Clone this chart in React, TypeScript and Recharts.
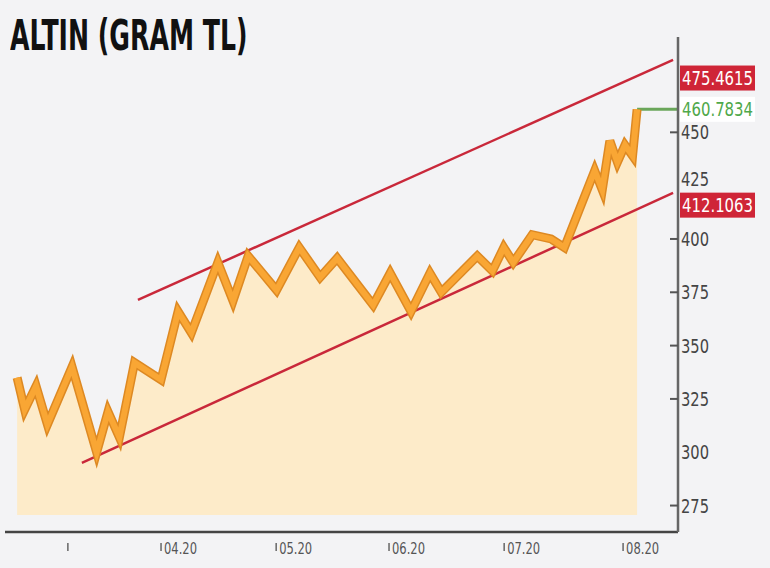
import {
  Area,
  ComposedChart,
  Line,
  ReferenceDot,
  ReferenceLine,
  XAxis,
  YAxis,
} from "recharts";

// days counted from 1 March 2020
const days = [
  -7, -5, -2, 1, 7.5, 14, 17, 20, 24, 31, 35.5, 39, 46, 50, 54, 61.5, 67.5, 73,
  77.5, 87, 91.5, 97, 102, 105, 114.5, 118.5, 121.5, 124, 129, 134, 137.5, 145.5,
  147.5, 149.5, 151.5, 153.5, 155.5, 156.7,
];
const prices = [
  335, 320, 331, 313, 340, 300, 319, 307, 342, 334, 366, 356, 389, 371, 392, 376,
  396, 382, 391, 369, 384, 366, 384, 375, 392, 385, 396, 389, 402, 400, 396, 432,
  423, 446, 436, 444, 439, 460.78,
];

const monthTicks = [6.4, 31, 61.4, 91.2, 121.6, 153];
const monthLabels = ["", "04.20", "05.20", "06.20", "07.20", "08.20"];
const priceTicks = [275, 300, 325, 350, 375, 400, 425, 450];
const noMark = [300, 425];

const upperChannel = [
  { x: 24.9, y: 371.4 },
  { x: 166.2, y: 484 },
];
const lowerChannel = [
  { x: 10.1, y: 295 },
  { x: 166.2, y: 421.6 },
];
const upperLabel = 475.4615;
const lastLabel = 460.7834;
const lowerLabel = 412.1063;

const data = days.map((d, i) => ({ day: d, price: prices[i] }));

const FONT = "'DejaVu Sans', sans-serif";
const X_MAX = 167.5;

const MonthTick = ({ x, y, index }: any) => {
  const label = monthLabels[index];
  return (
    <g>
      <line x1={x} y1={y + 11} x2={x} y2={y + 19} stroke="#666" strokeWidth={1.5} />
      {label && (
        <text
          x={x + 3}
          y={y + 16}
          fontFamily={FONT}
          fontStretch="condensed"
          fontSize={16}
          fill="#555"
          dominantBaseline="central"
          textLength={33}
          lengthAdjust="spacingAndGlyphs"
        >
          {label}
        </text>
      )}
    </g>
  );
};

const PriceTick = ({ x, y, payload }: any) => (
  <g>
    {!noMark.includes(payload.value) && (
      <line x1={x - 8} y1={y} x2={x} y2={y} stroke="#555" strokeWidth={2} />
    )}
    <text
      x={x + 3}
      y={payload.value === 425 ? y - 7 : y}
      fontFamily={FONT}
      fontStretch="condensed"
      fontSize={20}
      fill="#444"
      dominantBaseline="central"
      textLength={28}
      lengthAdjust="spacingAndGlyphs"
    >
      {payload.value}
    </text>
  </g>
);

const ValueBox = ({ cx, cy, text, fill, color, dy }: any) => (
  <g>
    {fill && <rect x={cx + 2} y={cy + dy - 12.5} width={75} height={25} fill={fill} />}
    <text
      x={cx + 4}
      y={cy + dy}
      fontFamily={FONT}
      fontStretch="condensed"
      fontSize={19}
      fill={color}
      dominantBaseline="central"
      textLength={71}
      lengthAdjust="spacingAndGlyphs"
    >
      {text}
    </text>
  </g>
);

const App = () => {
  return (
    <div
      style={{
        position: "absolute",
        left: 0,
        top: 0,
        width: 770,
        height: 568,
        background: "#f3f3f5",
      }}
    >
      <div
        style={{
          position: "absolute",
          left: 10,
          top: 12,
          fontFamily: FONT,
          fontWeight: 700,
          fontSize: 42,
          lineHeight: "48px",
          color: "#111",
          whiteSpace: "nowrap",
          transform: "scaleX(0.6)",
          transformOrigin: "left top",
        }}
      >
        ALTIN (GRAM TL)
      </div>
      <ComposedChart
        width={770}
        height={568}
        data={data}
        margin={{ top: 37, right: 0, left: 5, bottom: 0 }}
      >
        <XAxis
          dataKey="day"
          type="number"
          domain={[-10.2, X_MAX]}
          allowDataOverflow
          ticks={monthTicks}
          height={36}
          tickSize={0}
          tickMargin={0}
          tickLine={false}
          axisLine={{ stroke: "#444", strokeWidth: 2.5 }}
          tick={<MonthTick />}
          interval={0}
        />
        <YAxis
          orientation="right"
          type="number"
          domain={[262.6, 494.7]}
          allowDataOverflow
          ticks={priceTicks}
          width={92}
          tickSize={0}
          tickMargin={0}
          tickLine={false}
          axisLine={{ stroke: "#666", strokeWidth: 2.5 }}
          tick={<PriceTick />}
          interval={0}
        />
        <Area
          dataKey="price"
          type="linear"
          baseValue={270.6}
          stroke="none"
          fill="#fdebc9"
          fillOpacity={1}
          isAnimationActive={false}
        />
        <ReferenceLine
          segment={upperChannel}
          stroke="#c9283a"
          strokeWidth={2.5}
          ifOverflow="visible"
        />
        <ReferenceLine
          segment={lowerChannel}
          stroke="#c9283a"
          strokeWidth={2.5}
          ifOverflow="visible"
        />
        <ReferenceLine
          segment={[
            { x: days[days.length - 1], y: lastLabel },
            { x: X_MAX, y: lastLabel },
          ]}
          stroke="#6aa65a"
          strokeWidth={3}
          ifOverflow="visible"
        />
        <Line
          dataKey="price"
          type="linear"
          stroke="#dd8923"
          strokeWidth={9}
          strokeLinejoin="miter"
          dot={false}
          activeDot={false}
          isAnimationActive={false}
        />
        <Line
          dataKey="price"
          type="linear"
          stroke="#f9a634"
          strokeWidth={6}
          strokeLinejoin="miter"
          dot={false}
          activeDot={false}
          isAnimationActive={false}
        />
        <ReferenceDot
          x={X_MAX}
          y={upperLabel}
          ifOverflow="visible"
          shape={(p: any) => (
            <ValueBox {...p} text={upperLabel.toString()} fill="#cf2537" color="#fff" dy={0} />
          )}
        />
        <ReferenceDot
          x={X_MAX}
          y={lastLabel}
          ifOverflow="visible"
          shape={(p: any) => (
            <ValueBox {...p} text={lastLabel.toString()} color="#4fa84a" dy={0} />
          )}
        />
        <ReferenceDot
          x={X_MAX}
          y={lowerLabel}
          ifOverflow="visible"
          shape={(p: any) => (
            <ValueBox {...p} text={lowerLabel.toString()} fill="#cf2537" color="#fff" dy={-8} />
          )}
        />
      </ComposedChart>
    </div>
  );
};

export default App;
